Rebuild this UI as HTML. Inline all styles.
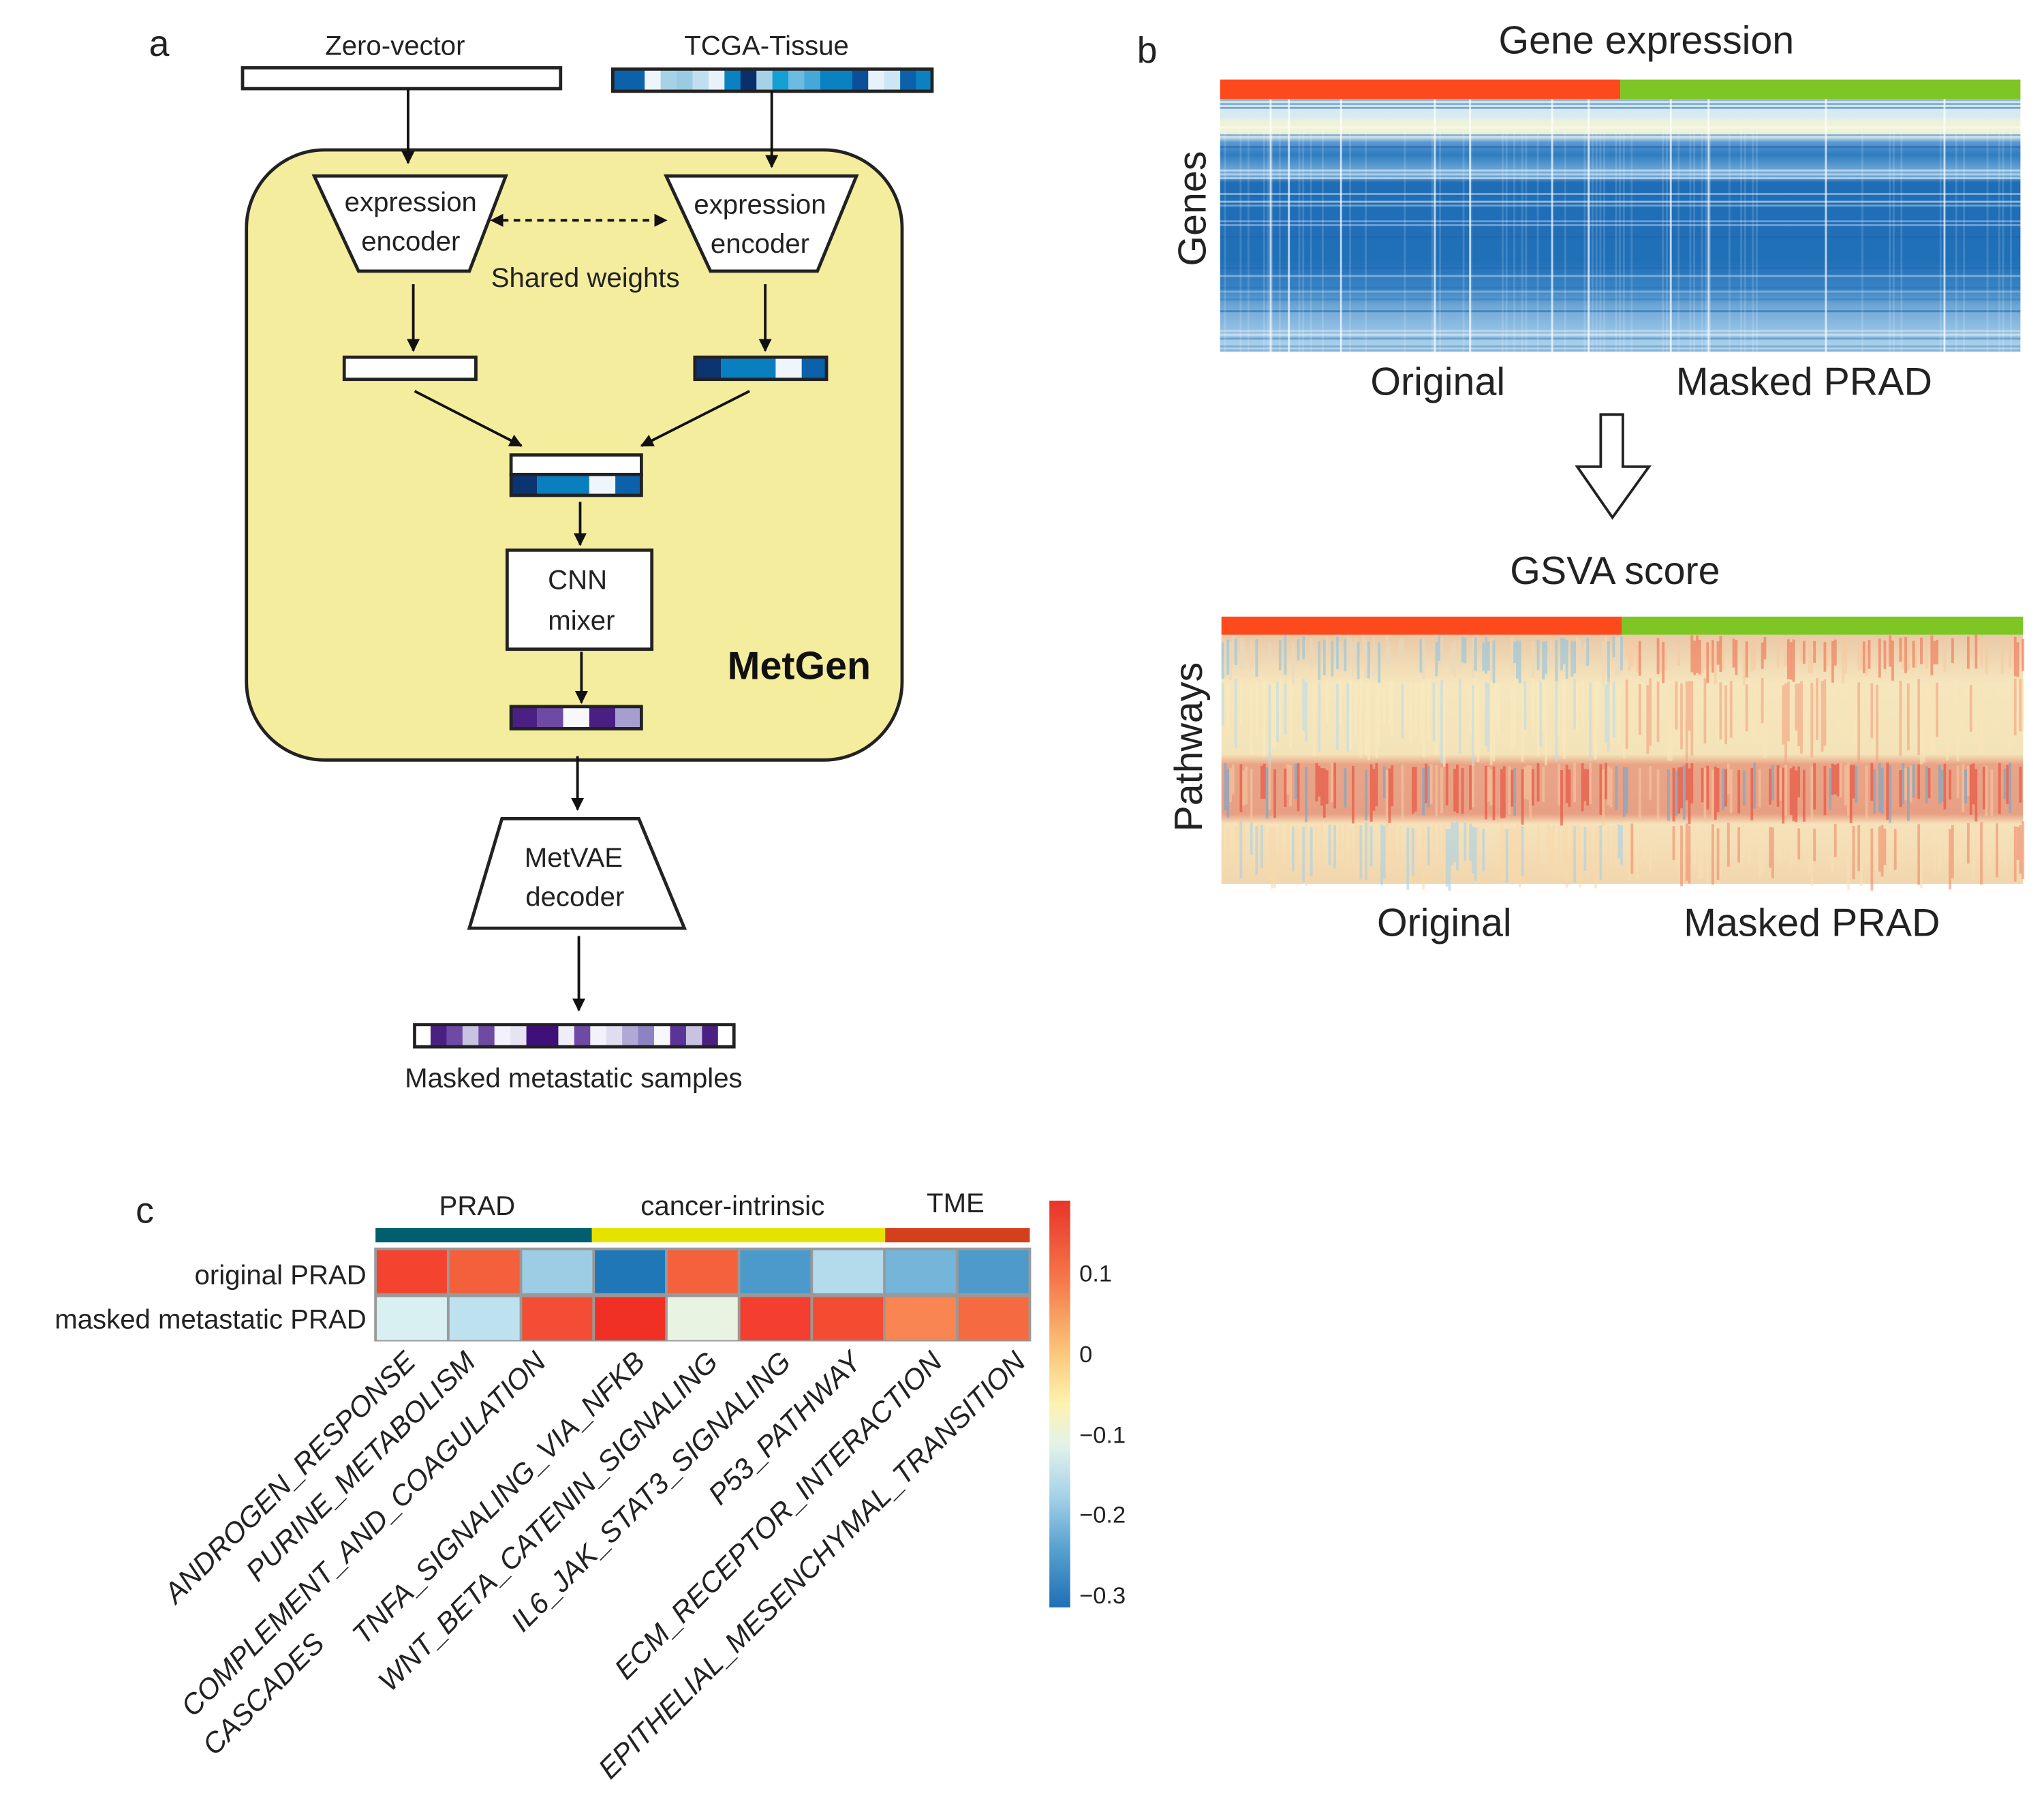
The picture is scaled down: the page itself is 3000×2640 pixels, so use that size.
<!DOCTYPE html>
<html><head><meta charset="utf-8"><style>
html,body{margin:0;padding:0;background:#fff}
svg{display:block}
text{font-family:"Liberation Sans",sans-serif;fill:#222}
</style></head><body>
<svg id="s" width="3000" height="2640" viewBox="0 0 1568 1380" xmlns="http://www.w3.org/2000/svg">
<defs>
<marker id="ah" markerWidth="10" markerHeight="10" refX="9" refY="5" orient="auto" markerUnits="userSpaceOnUse">
<path d="M0,0 L10,5 L0,10 z" fill="#111"/></marker>
<marker id="ahs" markerWidth="10" markerHeight="10" refX="1" refY="5" orient="auto-start-reverse" markerUnits="userSpaceOnUse">
<path d="M0,0 L10,5 L0,10 z" fill="#111"/></marker>
<linearGradient id="gg" x1="0" y1="0" x2="0" y2="1">
<stop offset="0" stop-color="#cfe6ef"/><stop offset="0.07" stop-color="#d8ebf0"/>
<stop offset="0.09" stop-color="#eef3d8"/><stop offset="0.13" stop-color="#eef3d8"/>
<stop offset="0.15" stop-color="#cfe4f0"/><stop offset="0.17" stop-color="#5b9bd0"/>
<stop offset="0.22" stop-color="#2f7cc0"/><stop offset="0.3" stop-color="#7fb4dc"/>
<stop offset="0.33" stop-color="#1f6db6"/><stop offset="0.64" stop-color="#2070b8"/>
<stop offset="0.75" stop-color="#3a84c4"/><stop offset="0.82" stop-color="#6ea7d6"/>
<stop offset="0.9" stop-color="#8dbde2"/><stop offset="1" stop-color="#b5d6ec"/>
</linearGradient>
<linearGradient id="gs" x1="0" y1="0" x2="0" y2="1">
<stop offset="0" stop-color="#e9c9a8"/><stop offset="0.2" stop-color="#f6e6bd"/>
<stop offset="0.48" stop-color="#f4e3b8"/><stop offset="0.52" stop-color="#e9a487"/>
<stop offset="0.72" stop-color="#e8a084"/><stop offset="0.76" stop-color="#f5e3bb"/>
<stop offset="1" stop-color="#f2d6ad"/>
</linearGradient>
<linearGradient id="cb" x1="0" y1="0" x2="0" y2="1">
<stop offset="0" stop-color="#e8342a"/><stop offset="0.2" stop-color="#f57a4a"/>
<stop offset="0.38" stop-color="#fbc97e"/><stop offset="0.5" stop-color="#fdf3b0"/>
<stop offset="0.6" stop-color="#e3f2e8"/><stop offset="0.72" stop-color="#a9d4ea"/>
<stop offset="0.85" stop-color="#5aa3d0"/><stop offset="1" stop-color="#1f6fb5"/>
</linearGradient>
</defs>

<!-- Panel a -->
<text x="122" y="43" font-size="28" text-anchor="middle">a</text>
<text x="303" y="42" font-size="21" text-anchor="middle">Zero-vector</text>
<rect x="186" y="52" width="244" height="16" fill="#fff" stroke="#222" stroke-width="2.5"/>
<text x="588" y="42" font-size="21" text-anchor="middle">TCGA-Tissue</text>
<g id="tcga"></g>
<rect x="470" y="53" width="245" height="17" fill="none" stroke="#222" stroke-width="2.5"/>

<rect x="189" y="115" width="503" height="468" rx="60" fill="#f5ed9e" stroke="#222" stroke-width="2.5"/>
<line x1="313" y1="68" x2="313" y2="125" stroke="#111" stroke-width="2" marker-end="url(#ah)"/>
<line x1="592" y1="70" x2="592" y2="128" stroke="#111" stroke-width="2" marker-end="url(#ah)"/>
<polygon points="241,135 388,135 360,208 275,208" fill="#fff" stroke="#222" stroke-width="2.5"/>
<polygon points="511,135 657,135 627,208 545,208" fill="#fff" stroke="#222" stroke-width="2.5"/>
<text x="315" y="162" font-size="21" text-anchor="middle">expression</text>
<text x="315" y="192" font-size="21" text-anchor="middle">encoder</text>
<text x="583" y="164" font-size="21" text-anchor="middle">expression</text>
<text x="583" y="194" font-size="21" text-anchor="middle">encoder</text>
<line x1="385" y1="169" x2="511" y2="169" stroke="#111" stroke-width="2" stroke-dasharray="5,4" marker-end="url(#ah)" marker-start="url(#ahs)"/>
<text x="449" y="220" font-size="21" text-anchor="middle">Shared weights</text>
<line x1="317" y1="218" x2="317" y2="269" stroke="#111" stroke-width="2" marker-end="url(#ah)"/>
<line x1="587" y1="218" x2="587" y2="269" stroke="#111" stroke-width="2" marker-end="url(#ah)"/>
<rect x="264" y="274" width="101" height="17" fill="#fff" stroke="#222" stroke-width="2.5"/>
<g>
<rect x="533" y="274" width="20" height="17" fill="#0b3470"/>
<rect x="553" y="274" width="42" height="17" fill="#0a7fc0"/>
<rect x="595" y="274" width="20" height="17" fill="#eef6fc"/>
<rect x="615" y="274" width="19" height="17" fill="#0b62ab"/>
<rect x="533" y="274" width="101" height="17" fill="none" stroke="#222" stroke-width="2.5"/>
</g>
<line x1="318" y1="300" x2="400" y2="342" stroke="#111" stroke-width="2" marker-end="url(#ah)"/>
<line x1="575" y1="300" x2="492" y2="342" stroke="#111" stroke-width="2" marker-end="url(#ah)"/>
<rect x="392" y="349" width="100" height="15" fill="#fff" stroke="#222" stroke-width="2.5"/>
<g>
<rect x="392" y="364" width="20" height="16" fill="#0b3470"/>
<rect x="412" y="364" width="40" height="16" fill="#0a7fc0"/>
<rect x="452" y="364" width="20" height="16" fill="#eef6fc"/>
<rect x="472" y="364" width="20" height="16" fill="#0b62ab"/>
<rect x="392" y="364" width="100" height="16" fill="none" stroke="#222" stroke-width="2.5"/>
</g>
<line x1="445" y1="385" x2="445" y2="418" stroke="#111" stroke-width="2" marker-end="url(#ah)"/>
<rect x="389" y="422" width="111" height="76" fill="#fff" stroke="#222" stroke-width="2.5"/>
<text x="443" y="452" font-size="21" text-anchor="middle">CNN</text>
<text x="446" y="483" font-size="21" text-anchor="middle">mixer</text>
<text x="613" y="521" font-size="30" font-weight="bold" text-anchor="middle" style="fill:#111">MetGen</text>
<line x1="446" y1="500" x2="446" y2="539" stroke="#111" stroke-width="2" marker-end="url(#ah)"/>
<g>
<rect x="392" y="542" width="20" height="17" fill="#4a2182"/>
<rect x="412" y="542" width="20" height="17" fill="#6f4aa5"/>
<rect x="432" y="542" width="20" height="17" fill="#f8f7fc"/>
<rect x="452" y="542" width="20" height="17" fill="#4a1f84"/>
<rect x="472" y="542" width="20" height="17" fill="#a59fd0"/>
<rect x="392" y="542" width="100" height="17" fill="none" stroke="#222" stroke-width="2.5"/>
</g>
<line x1="443" y1="580" x2="443" y2="621" stroke="#111" stroke-width="2" marker-end="url(#ah)"/>
<polygon points="385,628 490,628 525,712 360,712" fill="#fff" stroke="#222" stroke-width="2.5"/>
<text x="440" y="665" font-size="21" text-anchor="middle">MetVAE</text>
<text x="441" y="695" font-size="21" text-anchor="middle">decoder</text>
<line x1="444" y1="718" x2="444" y2="775" stroke="#111" stroke-width="2" marker-end="url(#ah)"/>
<g id="meta"></g>
<rect x="318" y="786" width="245" height="17" fill="none" stroke="#222" stroke-width="2.5"/>
<text x="440" y="834" font-size="21" text-anchor="middle">Masked metastatic samples</text>

<!-- Panel b -->
<text x="880" y="48" font-size="28" text-anchor="middle">b</text>
<text x="1263" y="41" font-size="30" text-anchor="middle">Gene expression</text>
<rect x="936" y="61" width="307" height="15" fill="#fd4a1c"/>
<rect x="1243" y="61" width="307" height="15" fill="#7dc623"/>
<rect x="936" y="76" width="614" height="194" fill="url(#gg)"/>
<g id="gh"></g>
<text transform="translate(925,160) rotate(-90)" font-size="30" text-anchor="middle">Genes</text>
<text x="1103" y="303" font-size="30" text-anchor="middle">Original</text>
<text x="1384" y="303" font-size="30" text-anchor="middle">Masked PRAD</text>
<polygon points="1228,318 1245,318 1245,358 1265,358 1237,397 1210,358 1228,358" fill="#fff" stroke="#222" stroke-width="2"/>
<text x="1239" y="448" font-size="30" text-anchor="middle">GSVA score</text>
<rect x="937" y="473" width="307" height="14" fill="#fd4a1c"/>
<rect x="1244" y="473" width="308" height="14" fill="#7dc623"/>
<rect x="937" y="487" width="615" height="191" fill="url(#gs)"/>
<g id="gsv"></g>
<text transform="translate(922,573) rotate(-90)" font-size="30" text-anchor="middle">Pathways</text>
<text x="1108" y="718" font-size="30" text-anchor="middle">Original</text>
<text x="1390" y="718" font-size="30" text-anchor="middle">Masked PRAD</text>

<!-- Panel c -->
<text x="111" y="938" font-size="28" text-anchor="middle">c</text>
<text x="366" y="932" font-size="21" text-anchor="middle">PRAD</text>
<text x="562" y="932" font-size="21" text-anchor="middle">cancer-intrinsic</text>
<text x="733" y="930" font-size="21" text-anchor="middle">TME</text>
<rect x="288" y="942" width="166" height="11" fill="#005f6f"/>
<rect x="454" y="942" width="225" height="11" fill="#e6e200"/>
<rect x="679" y="942" width="111" height="11" fill="#d4401c"/>
<rect x="287" y="957" width="504" height="72" fill="#999"/>
<g id="ch"></g>
<text x="281" y="985" font-size="21" text-anchor="end">original PRAD</text>
<text x="281" y="1019" font-size="21" text-anchor="end">masked metastatic PRAD</text>
<g font-size="22" font-style="italic" text-anchor="end">
<text transform="translate(320,1046) rotate(-45)">ANDROGEN_RESPONSE</text>
<text transform="translate(366,1046) rotate(-45)">PURINE_METABOLISM</text>
<text transform="translate(420,1046) rotate(-45)">COMPLEMENT_AND_COAGULATION</text>
<text transform="translate(250,1262) rotate(-45)">CASCADES</text>
<text transform="translate(496,1046) rotate(-45)">TNFA_SIGNALING_VIA_NFKB</text>
<text transform="translate(552,1046) rotate(-45)">WNT_BETA_CATENIN_SIGNALING</text>
<text transform="translate(608,1046) rotate(-45)">IL6_JAK_STAT3_SIGNALING</text>
<text transform="translate(662,1046) rotate(-45)">P53_PATHWAY</text>
<text transform="translate(724,1046) rotate(-45)">ECM_RECEPTOR_INTERACTION</text>
<text transform="translate(788,1046) rotate(-45)">EPITHELIAL_MESENCHYMAL_TRANSITION</text>
</g>
<rect x="805" y="921" width="16" height="312" fill="url(#cb)"/>
<g font-size="18">
<text x="828" y="983">0.1</text>
<text x="828" y="1045">0</text>
<text x="828" y="1107">−0.1</text>
<text x="828" y="1168">−0.2</text>
<text x="828" y="1230">−0.3</text>
</g>
</svg>
<script>
(function(){
var NS="http://www.w3.org/2000/svg";
function R(g,x,y,w,h,c,o){var r=document.createElementNS(NS,"rect");r.setAttribute("x",x);r.setAttribute("y",y);r.setAttribute("width",w);r.setAttribute("height",h);r.setAttribute("fill",c);if(o!=null)r.setAttribute("opacity",o);g.appendChild(r);}
var seed=7;function rnd(){seed=(seed*16807)%2147483647;return seed/2147483647;}
var t=document.getElementById("tcga");
var tc=["#0b62ab","#0b62ab","#eef6fc","#a6d2e8","#9bcbe3","#c0def0","#e8f2fa","#0a82c2","#08306b","#a6d2e8","#14a0d4","#6cbbe0","#45a8d8","#0a82c2","#0a82c2","#0b4f9a","#e8f2fa","#cde6f4","#0b62ab","#0a82c2"];
for(var i=0;i<20;i++)R(t,470+i*12.25,53,12.5,17,tc[i]);
var m=document.getElementById("meta");
var mc=["#fff","#4a2182","#6f4aa5","#c9c3e3","#6f4aa5","#f3f1f9","#e6e3f2","#3f1078","#3f1078","#efeef7","#6f4aa5","#f3f1f9","#e0ddef","#b0a9d6","#8e83c2","#f8f7fc","#5a3497","#c9c3e3","#4a2182","#fff"];
for(var i=0;i<20;i++)R(m,318+i*12.25,786,12.5,17,mc[i]);
var g=document.getElementById("gh");
for(var y=76;y<270;y+=3){if(rnd()<0.45)R(g,936,y,614,1.5,rnd()<0.5?"#ffffff":"#1a5fa8",0.25+rnd()*0.3);}
var vx=[974,988,1028,1100,1127,1190,1218,1281,1310,1400,1491];
for(var i=0;i<vx.length;i++)R(g,vx[i],76,1.5,194,"#ffffff",0.7);
for(var x=936;x<1550;x+=3){if(rnd()<0.3)R(g,x,100,1.5,170,"#ffffff",0.15);}
var s=document.getElementById("gsv");
var bands=[[487,520],[520,585],[585,630],[630,678]];
for(var x=937;x<1552;x+=2){
 var right=x>=1244;
 for(var b=0;b<4;b++){
  var y0=bands[b][0],y1=bands[b][1],p=rnd();
  var c;
  if(b==0){c=right?(p<0.6?"#f07050":"#f8c8a0"):(p<0.5?"#8ec4e2":"#e8d8c0");}
  else if(b==1){c=right?(p<0.5?"#f4a080":"#f8e4b8"):(p<0.3?"#bcdcea":"#fae9be");}
  else if(b==2){c=p<0.45?"#e84a38":(p<0.7?"#6aa8d4":"#f6c8a0");}
  else {c=right?(p<0.45?"#f08a6a":"#f8e0b4"):(p<0.35?"#a8d0e6":"#f8d8ac");}
  if(rnd()<0.55)R(s,x,y0+rnd()*6,2,(y1-y0)*(0.5+rnd()*0.5),c,0.6);
 }
}
var ch=document.getElementById("ch");
var r1=["#f4432f","#f5603c","#9ccde4","#1f77b8","#f5613d","#4b9acb","#b3dbeb","#74b5d9","#4e9acb"];
var r2=["#d9f0f3","#bde1ee","#f44d35","#f02f25","#e8f3e2","#f43e2f","#f44b33","#f88552","#f56a40"];
var cw=502/9;
for(var i=0;i<9;i++){R(ch,288+i*cw+1,959,cw-2,33,r1[i]);R(ch,288+i*cw+1,995,cw-2,33,r2[i]);}
})();
</script>
</body></html>
